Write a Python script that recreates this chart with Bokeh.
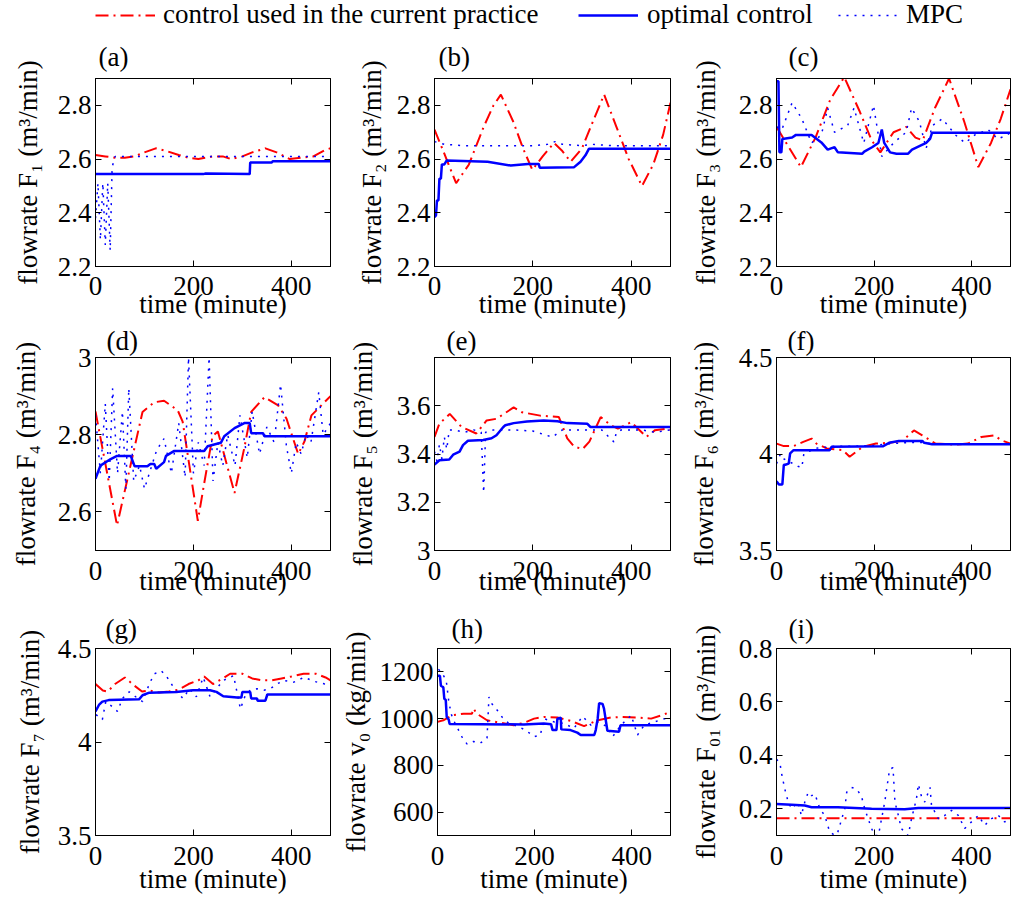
from bokeh.plotting import figure
from bokeh.layouts import column, row
from bokeh.models import (FixedTicker, CustomJSTickFormatter, LinearAxis, Range1d,
                          Legend, LegendItem)
from bokeh.embed import file_html
from bokeh.resources import INLINE

FONT = "Liberation Serif"
FS = "27px"
RED = "#ff0000"
BLUE = "#0000ff"

# ---------------- data (time in minutes) ----------------
x_ticks = [0, 200, 400]

# (a) F1
a_red_t = [0, 20, 40, 60, 80, 100, 123, 145, 170, 190, 210, 240, 260, 277, 300, 320, 347, 370, 397, 420, 445, 470, 480]
a_red_v = [2.615, 2.61, 2.605, 2.605, 2.61, 2.625, 2.64, 2.63, 2.615, 2.605, 2.60, 2.61, 2.61, 2.60, 2.61, 2.625, 2.64, 2.625, 2.60, 2.605, 2.61, 2.635, 2.64]
a_mpc_t = [0, 5, 10, 15, 20, 25, 30, 34, 40, 80, 120, 160, 200, 240, 280, 320, 360, 400, 440, 480]
a_mpc_v = [2.38, 2.51, 2.30, 2.51, 2.28, 2.51, 2.26, 2.57, 2.61, 2.61, 2.61, 2.61, 2.61, 2.61, 2.61, 2.61, 2.61, 2.61, 2.61, 2.61]
a_opt_t = [0, 220, 225, 315, 316, 360, 362, 480]
a_opt_v = [2.544, 2.544, 2.546, 2.544, 2.587, 2.587, 2.592, 2.592]

# (b) F2
b_red_t = [0, 20, 44, 70, 100, 120, 135, 160, 180, 199, 220, 243, 260, 277, 300, 320, 345, 370, 395, 422, 445, 465, 480]
b_red_v = [2.71, 2.62, 2.51, 2.58, 2.72, 2.80, 2.84, 2.74, 2.64, 2.56, 2.61, 2.66, 2.63, 2.59, 2.64, 2.73, 2.84, 2.72, 2.60, 2.50, 2.58, 2.69, 2.81]
b_mpc_t = [0, 20, 60, 100, 150, 200, 230, 245, 260, 300, 320, 360, 400, 440, 480]
b_mpc_v = [2.665, 2.655, 2.65, 2.65, 2.65, 2.65, 2.655, 2.665, 2.655, 2.65, 2.655, 2.65, 2.65, 2.65, 2.65]
b_opt_t = [0, 3, 5, 8, 10, 13, 15, 20, 25, 108, 155, 190, 212, 214, 284, 297, 307, 314, 480]
b_opt_v = [2.384, 2.39, 2.446, 2.446, 2.527, 2.527, 2.58, 2.58, 2.595, 2.59, 2.576, 2.582, 2.582, 2.568, 2.57, 2.59, 2.614, 2.638, 2.638]

# (c) F3
c_red_t = [0, 20, 50, 80, 110, 139, 170, 195, 213, 240, 266, 285, 300, 325, 354, 385, 414, 440, 460, 480]
c_red_v = [2.72, 2.66, 2.57, 2.68, 2.82, 2.905, 2.78, 2.67, 2.625, 2.70, 2.72, 2.68, 2.67, 2.79, 2.90, 2.74, 2.57, 2.66, 2.75, 2.86]
c_mpc_t = [0, 11, 32, 52, 72, 92, 105, 119, 146, 159, 179, 199, 216, 240, 266, 277, 293, 307, 320, 340, 367, 387, 407, 434, 454, 474, 480]
c_mpc_v = [2.72, 2.71, 2.81, 2.75, 2.66, 2.69, 2.79, 2.70, 2.725, 2.79, 2.66, 2.80, 2.61, 2.66, 2.70, 2.79, 2.74, 2.64, 2.725, 2.75, 2.69, 2.66, 2.69, 2.71, 2.675, 2.69, 2.70]
c_opt_t = [0, 4, 6, 10, 12, 32, 40, 72, 92, 105, 112, 119, 126, 176, 180, 196, 209, 216, 221, 233, 246, 270, 278, 307, 315, 319, 480]
c_opt_v = [2.89, 2.89, 2.625, 2.625, 2.675, 2.68, 2.69, 2.69, 2.662, 2.635, 2.64, 2.644, 2.625, 2.62, 2.628, 2.644, 2.66, 2.71, 2.66, 2.625, 2.62, 2.62, 2.635, 2.66, 2.675, 2.698, 2.698]

# (d) F4
d_red_t = [0, 44, 96, 120, 140, 168, 178, 209, 222, 239, 250, 284, 304, 318, 345, 373, 390, 414, 427, 441, 480]
d_red_v = [2.86, 2.565, 2.859, 2.884, 2.888, 2.863, 2.834, 2.577, 2.674, 2.796, 2.808, 2.649, 2.766, 2.859, 2.897, 2.876, 2.842, 2.75, 2.783, 2.85, 2.90]
d_mpc_t = [0, 10, 20, 28, 35, 45, 55, 62, 68, 78, 90, 100, 110, 125, 140, 155, 170, 183, 190, 200, 210, 222, 232, 240, 250, 260, 270, 285, 295, 310, 320, 335, 350, 365, 378, 390, 400, 410, 420, 430, 440, 456, 465, 480]
d_mpc_v = [2.85, 2.70, 2.88, 2.68, 2.92, 2.70, 2.86, 2.66, 2.92, 2.68, 2.72, 2.66, 2.70, 2.76, 2.79, 2.70, 2.83, 2.69, 3.0, 2.70, 2.78, 2.72, 3.0, 2.68, 2.78, 2.72, 2.80, 2.72, 2.85, 2.74, 2.86, 2.75, 2.82, 2.78, 2.93, 2.77, 2.70, 2.78, 2.75, 2.80, 2.78, 2.91, 2.80, 2.83]
d_opt_t = [0, 10, 31, 44, 72, 80, 106, 112, 120, 124, 140, 144, 161, 222, 229, 256, 263, 284, 304, 315, 318, 342, 345, 480]
d_opt_v = [2.686, 2.72, 2.737, 2.745, 2.745, 2.718, 2.718, 2.724, 2.724, 2.712, 2.729, 2.745, 2.758, 2.758, 2.77, 2.779, 2.796, 2.817, 2.83, 2.83, 2.804, 2.804, 2.796, 2.796]

# (e) F5
e_red_t = [0, 10, 31, 55, 85, 106, 126, 161, 178, 215, 253, 270, 284, 301, 315, 338, 359, 373, 400, 431, 448, 472, 480]
e_red_v = [3.471, 3.526, 3.566, 3.512, 3.485, 3.539, 3.546, 3.593, 3.573, 3.559, 3.553, 3.465, 3.431, 3.42, 3.451, 3.553, 3.519, 3.505, 3.532, 3.471, 3.498, 3.505, 3.50]
e_mpc_t = [0, 5, 10, 15, 20, 25, 30, 40, 60, 80, 95, 100, 104, 120, 160, 200, 240, 260, 300, 340, 365, 370, 380, 420, 450, 480]
e_mpc_v = [3.41, 3.37, 3.44, 3.38, 3.47, 3.42, 3.50, 3.50, 3.49, 3.50, 3.49, 3.24, 3.49, 3.50, 3.50, 3.495, 3.47, 3.50, 3.50, 3.50, 3.45, 3.49, 3.50, 3.50, 3.49, 3.50]
e_opt_t = [0, 10, 30, 38, 51, 58, 68, 99, 116, 126, 140, 144, 161, 188, 222, 250, 270, 311, 317, 480]
e_opt_v = [3.356, 3.374, 3.377, 3.397, 3.41, 3.437, 3.455, 3.458, 3.465, 3.478, 3.512, 3.519, 3.528, 3.535, 3.539, 3.536, 3.528, 3.525, 3.512, 3.512]

# (f) F6
f_red_t = [0, 15, 35, 55, 72, 82, 103, 136, 150, 177, 204, 231, 258, 282, 299, 326, 366, 393, 420, 447, 461, 480]
f_red_v = [4.054, 4.041, 4.041, 4.063, 4.08, 4.054, 4.029, 4.02, 3.986, 4.037, 4.054, 4.058, 4.068, 4.122, 4.097, 4.054, 4.049, 4.054, 4.088, 4.097, 4.071, 4.054]
f_mpc_t = [0, 8, 15, 25, 35, 45, 52, 56, 80, 120, 160, 200, 240, 280, 300, 330, 380, 430, 480]
f_mpc_v = [3.95, 4.0, 3.975, 3.96, 3.95, 3.935, 3.93, 4.0, 4.03, 4.04, 4.04, 4.045, 4.055, 4.06, 4.06, 4.05, 4.05, 4.05, 4.05]
f_opt_t = [0, 5, 12, 15, 18, 25, 28, 35, 109, 113, 218, 231, 251, 299, 303, 319, 480]
f_opt_v = [3.859, 3.842, 3.842, 3.944, 3.944, 3.95, 4.003, 4.02, 4.02, 4.037, 4.04, 4.058, 4.068, 4.068, 4.058, 4.05, 4.05]

# (g) F7
g_red_t = [0, 15, 25, 40, 60, 80, 95, 110, 130, 150, 170, 190, 210, 222, 240, 260, 275, 300, 320, 340, 360, 380, 400, 425, 450, 470, 480]
g_red_v = [4.31, 4.275, 4.27, 4.31, 4.345, 4.30, 4.27, 4.275, 4.265, 4.27, 4.28, 4.31, 4.33, 4.35, 4.31, 4.34, 4.365, 4.365, 4.34, 4.33, 4.33, 4.34, 4.35, 4.365, 4.365, 4.345, 4.33]
g_mpc_t = [1, 14, 21, 34, 45, 55, 69, 82, 96, 110, 120, 134, 144, 155, 165, 179, 192, 206, 220, 234, 247, 261, 282, 296, 306, 316, 330, 344, 357, 371, 385, 405, 426, 447, 467, 480]
g_mpc_v = [4.146, 4.12, 4.216, 4.19, 4.163, 4.233, 4.268, 4.242, 4.216, 4.311, 4.364, 4.381, 4.355, 4.311, 4.268, 4.233, 4.285, 4.242, 4.346, 4.242, 4.285, 4.329, 4.355, 4.177, 4.25, 4.277, 4.285, 4.277, 4.285, 4.311, 4.329, 4.32, 4.346, 4.324, 4.311, 4.294]
g_opt_t = [0, 7, 14, 27, 89, 96, 110, 165, 199, 234, 247, 261, 289, 298, 300, 316, 318, 330, 331, 347, 351, 480]
g_opt_v = [4.163, 4.198, 4.216, 4.224, 4.228, 4.25, 4.264, 4.268, 4.277, 4.277, 4.268, 4.245, 4.238, 4.238, 4.268, 4.268, 4.233, 4.233, 4.221, 4.221, 4.254, 4.254]

# (h) v0
h_red_t = [0, 12, 30, 54, 71, 74, 81, 102, 130, 157, 178, 199, 219, 247, 274, 302, 330, 357, 378, 412, 440, 461, 474, 480]
h_red_v = [986, 993, 1014, 1021, 1021, 1043, 1021, 993, 982, 972, 982, 1000, 1007, 1005, 991, 968, 993, 1005, 1007, 1005, 1000, 1014, 1024, 1024]
h_mpc_t = [2, 9, 18, 23, 28, 33, 40, 50, 61, 74, 88, 102, 106, 112, 123, 133, 147, 164, 181, 199, 212, 219, 240, 261, 281, 299, 316, 330, 350, 361, 378, 399, 412, 426, 447, 468, 480]
h_mpc_v = [1211, 1197, 1162, 1078, 1021, 993, 965, 923, 891, 902, 895, 916, 1092, 1064, 1036, 1007, 979, 968, 951, 923, 930, 1000, 986, 979, 958, 1010, 972, 986, 965, 923, 972, 1014, 930, 972, 986, 1000, 1000]
h_opt_t = [0, 5, 7, 12, 14, 17, 19, 23, 25, 178, 219, 234, 237, 245, 247, 254, 255, 274, 288, 295, 323, 326, 330, 333, 340, 343, 350, 374, 377, 480]
h_opt_v = [1183, 1183, 1141, 1134, 1085, 1080, 1007, 996, 977, 975, 979, 976, 951, 951, 1000, 1004, 954, 951, 940, 930, 930, 951, 1000, 1066, 1063, 1043, 948, 944, 972, 972]

# (i) F01
i_red_t = [0, 120, 240, 360, 480]
i_red_v = [0.165, 0.165, 0.165, 0.165, 0.165]
i_mpc_t = [0, 7, 10, 17, 24, 31, 44, 51, 58, 65, 72, 79, 89, 99, 109, 120, 126, 140, 144, 154, 164, 174, 181, 188, 195, 202, 209, 222, 232, 239, 243, 250, 256, 270, 277, 287, 291, 297, 304, 315, 318, 332, 345, 359, 373, 386, 400, 414, 427, 441, 455, 468, 480]
i_mpc_v = [0.385, 0.372, 0.336, 0.274, 0.225, 0.20, 0.225, 0.175, 0.225, 0.262, 0.249, 0.255, 0.20, 0.175, 0.114, 0.10, 0.114, 0.20, 0.262, 0.28, 0.274, 0.249, 0.20, 0.163, 0.126, 0.10, 0.10, 0.225, 0.348, 0.354, 0.225, 0.175, 0.126, 0.10, 0.163, 0.237, 0.292, 0.249, 0.225, 0.28, 0.212, 0.163, 0.175, 0.194, 0.175, 0.126, 0.151, 0.175, 0.138, 0.163, 0.175, 0.151, 0.157]
i_opt_t = [0, 31, 58, 72, 126, 195, 263, 291, 480]
i_opt_v = [0.218, 0.215, 0.212, 0.206, 0.206, 0.20, 0.198, 0.203, 0.203]

panels = [
    dict(letter="(a)", ylabel="flowrate F\u2081 (m\u00b3/min)", yr=(2.2, 2.9), yt=[2.2, 2.4, 2.6, 2.8],
         red=(a_red_t, a_red_v), mpc=(a_mpc_t, a_mpc_v), opt=(a_opt_t, a_opt_v), off=3, yls=12),
    dict(letter="(b)", ylabel="flowrate F\u2082 (m\u00b3/min)", yr=(2.2, 2.9), yt=[2.2, 2.4, 2.6, 2.8],
         red=(b_red_t, b_red_v), mpc=(b_mpc_t, b_mpc_v), opt=(b_opt_t, b_opt_v), off=4, yls=7),
    dict(letter="(c)", ylabel="flowrate F\u2083 (m\u00b3/min)", yr=(2.2, 2.9), yt=[2.2, 2.4, 2.6, 2.8],
         red=(c_red_t, c_red_v), mpc=(c_mpc_t, c_mpc_v), opt=(c_opt_t, c_opt_v), off=12, yls=15),
    dict(letter="(d)", ylabel="flowrate F\u2084 (m\u00b3/min)", yr=(2.5, 3.0), yt=[2.6, 2.8, 3.0],
         red=(d_red_t, d_red_v), mpc=(d_mpc_t, d_mpc_v), opt=(d_opt_t, d_opt_v), off=11, yls=14),
    dict(letter="(e)", ylabel="flowrate F\u2085 (m\u00b3/min)", yr=(3.0, 3.8), yt=[3.0, 3.2, 3.4, 3.6],
         red=(e_red_t, e_red_v), mpc=(e_mpc_t, e_mpc_v), opt=(e_opt_t, e_opt_v), off=12, yls=16),
    dict(letter="(f)", ylabel="flowrate F\u2086 (m\u00b3/min)", yr=(3.5, 4.5), yt=[3.5, 4.0, 4.5],
         red=(f_red_t, f_red_v), mpc=(f_mpc_t, f_mpc_v), opt=(f_opt_t, f_opt_v), off=11, yls=17),
    dict(letter="(g)", ylabel="flowrate F\u2087 (m\u00b3/min)", yr=(3.5, 4.5), yt=[3.5, 4.0, 4.5],
         red=(g_red_t, g_red_v), mpc=(g_mpc_t, g_mpc_v), opt=(g_opt_t, g_opt_v), off=10, yls=10),
    dict(letter="(h)", ylabel="flowrate v\u2080 (kg/min)", yr=(500, 1300), yt=[600, 800, 1000, 1200],
         red=(h_red_t, h_red_v), mpc=(h_mpc_t, h_mpc_v), opt=(h_opt_t, h_opt_v), off=14, yls=6),
    dict(letter="(i)", ylabel="flowrate F\u2080\u2081 (m\u00b3/min)", yr=(0.1, 0.8), yt=[0.2, 0.4, 0.6, 0.8],
         red=(i_red_t, i_red_v), mpc=(i_mpc_t, i_mpc_v), opt=(i_opt_t, i_opt_v), off=12, yls=15),
]

# column geometry: (left border, frame width, right border)
cols = [(95, 235, 7), (97, 236, 4), (102, 234, 2)]
# row geometry: (top border, frame height, bottom border, x tick standoff, x-label standoff, title standoff)
rows = [(48, 188, 55, 10, -9, 13), (32, 197, 56, 11, -17, 4), (40, 190, 60, 11, -4, 10)]

fmt = CustomJSTickFormatter(code="return String(Math.round(tick*1000)/1000);")
blank = CustomJSTickFormatter(code="return '';")


def style_axis(ax, ticks, labels=True):
    ax.ticker = FixedTicker(ticks=ticks)
    ax.major_tick_in = 6
    ax.major_tick_out = 0
    ax.minor_tick_line_color = None
    ax.major_tick_line_color = "black"
    ax.axis_line_color = "black"
    if labels:
        ax.formatter = fmt
        ax.major_label_text_font = FONT
        ax.major_label_text_font_size = FS
        ax.major_label_text_color = "black"
        ax.axis_label_text_font = FONT
        ax.axis_label_text_font_size = FS
        ax.axis_label_text_font_style = "normal"
        ax.axis_label_text_color = "black"
    else:
        ax.formatter = blank
        ax.major_label_text_font_size = "0px"
        ax.major_label_text_color = None
        ax.major_label_standoff = 0


figs = []
for k, pdef in enumerate(panels):
    r, c = divmod(k, 3)
    lb, fw, rb = cols[c]
    tb, fh, bb, xts, xls, tst = rows[r]
    p = figure(width=lb + fw + rb, height=tb + fh + bb,
               x_range=Range1d(0, 480), y_range=Range1d(*pdef["yr"]),
               min_border_left=lb, min_border_right=rb, min_border_top=tb, min_border_bottom=bb,
               output_backend="svg", toolbar_location=None, title=pdef["letter"])
    p.grid.visible = False
    p.outline_line_color = "black"
    p.outline_line_alpha = 1.0
    p.title.text_font = FONT
    p.title.text_font_size = FS
    p.title.text_font_style = "normal"
    p.title.text_color = "black"
    p.title.align = "left"
    p.title.offset = pdef["off"]
    p.title.standoff = tst

    style_axis(p.xaxis[0], x_ticks)
    p.xaxis[0].axis_label = "time (minute)"
    p.xaxis[0].major_label_standoff = xts
    p.xaxis[0].axis_label_standoff = xls
    style_axis(p.yaxis[0], pdef["yt"])
    p.yaxis[0].axis_label = pdef["ylabel"]
    p.yaxis[0].major_label_standoff = 4
    p.yaxis[0].axis_label_standoff = pdef["yls"]

    top_ax = LinearAxis()
    style_axis(top_ax, x_ticks, labels=False)
    p.add_layout(top_ax, "above")
    right_ax = LinearAxis()
    style_axis(right_ax, pdef["yt"], labels=False)
    p.add_layout(right_ax, "right")

    p.line(pdef["red"][0], pdef["red"][1], line_color=RED, line_width=2, line_dash="13 5 2 5")
    p.line(pdef["mpc"][0], pdef["mpc"][1], line_color=BLUE, line_width=1.5, line_dash="2 6")
    p.line(pdef["opt"][0], pdef["opt"][1], line_color=BLUE, line_width=2.5)
    figs.append(p)

# legend strip (its proxy lines lie outside its visible range)
lf = figure(width=1012, height=30, x_range=Range1d(0, 1), y_range=Range1d(0, 1),
            min_border=0, output_backend="svg", toolbar_location=None)
lf.axis.visible = False
lf.grid.visible = False
lf.outline_line_color = None
r1 = lf.line(a_red_t, a_red_v, line_color=RED, line_width=2, line_dash="13 5 2 5")
r2 = lf.line(a_opt_t, a_opt_v, line_color=BLUE, line_width=2.5)
r3 = lf.line(a_mpc_t, a_mpc_v, line_color=BLUE, line_width=1.5, line_dash="2 6")

legend_specs = [("control used in the current practice", r1, 95, 8),
                ("optimal control", r2, 578, 9),
                ("MPC", r3, 838, 8)]
for label, rend, xpos, stand in legend_specs:
    leg = Legend(items=[LegendItem(label=label, renderers=[rend])],
                 orientation="horizontal", location=(xpos, 0), glyph_width=60,
                 label_standoff=stand, padding=0, margin=0, border_line_color=None,
                 background_fill_alpha=0, label_text_font=FONT, label_text_font_size=FS,
                 label_text_color="black")
    lf.add_layout(leg, "center")

layout = column(lf,
                row(figs[0], figs[1], figs[2]),
                row(figs[3], figs[4], figs[5]),
                row(figs[6], figs[7], figs[8]))

open("out.html", "w").write(file_html(layout, INLINE))
